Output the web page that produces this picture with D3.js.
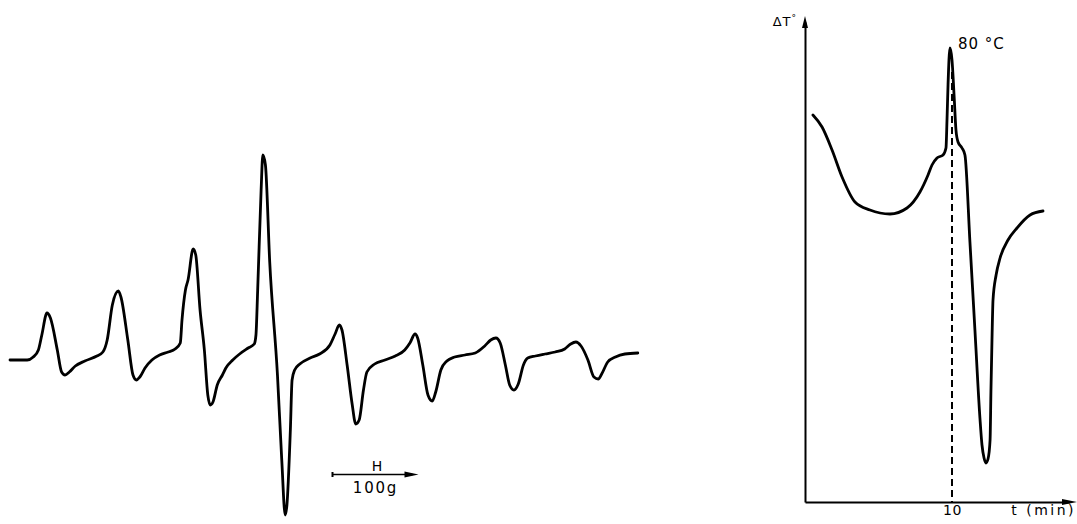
<!DOCTYPE html>
<html><head><meta charset="utf-8">
<script src="https://cdn.jsdelivr.net/npm/d3@7"></script>
<style>body{margin:0;background:#fff}</style>
</head><body><svg id="c" width="1077" height="524"></svg>
<script>
// ---- EPR spectrum (left): field H in gauss, derivative signal (arb. units)
const eprField = [0,20,27,33,37,43,47,55,60,64,69,76,87,101,108,113,119,126,129,137,143,147,151,157,165,174,184,192,198,200,204,207,213,216,221,226,230,233,236,241,247,251,259,267,277,284,286,288,292,294,297,302,311,316,320,322,326,328,331,337,349,360,372,378,383,386,392,398,402,406,411,415,424,436,448,459,465,471,474,480,486,491,495,501,508,517,529,541,552,559,565,570,576,581,586,591,597,602,611,622,634,645,652,658,664,672,679,684,688,695,704,715,730];
const eprSignal = [0,0,1.5,5,12.5,23.5,21,5,-6,-7.5,-6,-3,-0.5,2,4,10,27.5,34.5,31.5,10,-7.5,-10,-8.5,-4,0,2.5,4,5.5,8.5,20,35,40,55.5,52.5,25,5,-17.5,-22.5,-21,-12.5,-7.5,-4,0,3,6,8,12.5,35,85,102.5,97.5,49,-7.5,-50,-77.5,-72.5,-35,-10,-5,-2,1,3,7.5,13,17.5,15,-2.5,-22.5,-32,-30,-15,-6,-2,0,2,5,8.5,13,11,-2.5,-17.5,-20.5,-16,-5,-0.5,1.5,2.5,3.5,7,10,11,8.5,-2.5,-12.5,-15,-12,-2.5,1,2,3,4,5.5,8,9,7,0,-8.5,-9.5,-7,-1,1.5,3,3.5];
const scaleBar = {from: 375, to: 475, label: "100g", axisLabel: "H"};

// ---- DTA curve (right): time in min, ΔT (arb. units)
const dtaTime = [0.54,1.16,1.84,2.52,3.40,4.42,5.78,6.94,7.82,8.37,8.64,8.98,9.39,9.59,9.66,9.73,9.86,10.0,10.14,10.27,10.41,10.68,10.88,11.22,11.56,11.90,12.04,12.18,12.31,12.45,12.59,12.65,12.72,12.79,13.0,13.27,13.81,14.42,15.31,16.19];
const dtaDeltaT = [38.7,37.5,35.2,32.5,30.0,29.2,28.8,29.4,31.0,32.7,33.7,34.4,34.7,35.4,38.2,41.7,45.4,44.2,40.7,37.2,36.0,35.4,34.7,26.0,17.2,8.4,5.7,4.4,3.9,4.3,6.2,11.2,16.2,20.2,22.7,24.4,26.2,27.4,28.7,29.1];
const dtaTicks = [10];
const peakTime = 10;
const peakLabel = "80 °C";
const xAxisLabel = "t (min)";

const svg = d3.select("#c");
const font = "DejaVu Sans, Liberation Sans, sans-serif";

// ---------- left panel ----------
const xL = d3.scaleLinear().domain([0, 730]).range([10, 637.8]);
const yL = d3.scaleLinear().domain([-80, 105]).range([520, 150]);
const lineL = d3.line().x((d,i)=>xL(eprField[i])).y((d,i)=>yL(eprSignal[i])).curve(d3.curveMonotoneX);
svg.append("path").attr("d", lineL(eprField)).attr("fill","none").attr("stroke","#000")
  .attr("stroke-width",2.8).attr("stroke-linejoin","round").attr("stroke-linecap","round");

// scale bar
const barY = 474.5;
const bx0 = xL(scaleBar.from), bx1 = xL(scaleBar.to);
svg.append("line").attr("x1",bx0).attr("x2",bx1-6).attr("y1",barY).attr("y2",barY).attr("stroke","#000").attr("stroke-width",1.6);
svg.append("line").attr("x1",bx0).attr("x2",bx0).attr("y1",barY-2.5).attr("y2",barY+2.5).attr("stroke","#000").attr("stroke-width",2);
svg.append("path").attr("d",`M${bx1},${barY} L${bx1-14},${barY-3} L${bx1-14},${barY+3} Z`).attr("fill","#000");
svg.append("text").attr("x",(bx0+bx1)/2+2).attr("y",471).attr("text-anchor","middle")
  .attr("font-family",font).attr("font-size",14).attr("letter-spacing",1).text(scaleBar.axisLabel);
svg.append("text").attr("x",(bx0+bx1)/2).attr("y",493).attr("text-anchor","middle")
  .attr("font-family",font).attr("font-size",15).attr("letter-spacing",1.8).text(scaleBar.label);

// ---------- right panel ----------
const xR = d3.scaleLinear().domain([0, 18]).range([805, 1069.6]);
const yR = d3.scaleLinear().domain([0, 48]).range([502, 22]);

const gx = svg.append("g").attr("transform",`translate(0,${yR(0)})`)
  .call(d3.axisBottom(xR).tickValues(dtaTicks).tickSize(0).tickPadding(3).tickSizeOuter(0).tickFormat(d3.format("d")));
gx.select(".domain").attr("stroke-width",2);
gx.selectAll("text").attr("font-family",font).attr("font-size",14).attr("letter-spacing",0.5);
const gy = svg.append("g").attr("transform",`translate(${xR(0)},0)`)
  .call(d3.axisLeft(yR).tickValues([]).tickSizeOuter(0));
gy.select(".domain").attr("stroke-width",2);

// arrowheads
svg.append("path").attr("d",`M1077,${yR(0)} L1062,${yR(0)-3} L1062,${yR(0)+3} Z`).attr("fill","#000");
svg.append("path").attr("d",`M${xR(0)},16 L${xR(0)-3},28 L${xR(0)+3},28 Z`).attr("fill","#000");

// dashed marker at peak time
svg.append("line").attr("x1",xR(peakTime)).attr("x2",xR(peakTime)).attr("y1",yR(43)).attr("y2",yR(0))
  .attr("stroke","#000").attr("stroke-width",2).attr("stroke-dasharray","7,4");

const lineR = d3.line().x((d,i)=>xR(dtaTime[i])).y((d,i)=>yR(dtaDeltaT[i])).curve(d3.curveMonotoneX);
svg.append("path").attr("d", lineR(dtaTime)).attr("fill","none").attr("stroke","#000")
  .attr("stroke-width",2.8).attr("stroke-linejoin","round").attr("stroke-linecap","round");

// labels
svg.append("text").attr("x",958).attr("y",49).attr("font-family",font).attr("font-size",15)
  .attr("letter-spacing",1).text(peakLabel);
svg.append("text").attr("x",1076).attr("y",515).attr("text-anchor","end").attr("font-family",font)
  .attr("font-size",14).attr("letter-spacing",2.5).text(xAxisLabel);
const dt = svg.append("text").attr("x",797).attr("y",26).attr("text-anchor","end").attr("font-family",font).attr("font-size",13).attr("letter-spacing",1);
dt.append("tspan").text("ΔT");
dt.append("tspan").attr("font-size",9).attr("dy",-5).text("°");
</script></body></html>
